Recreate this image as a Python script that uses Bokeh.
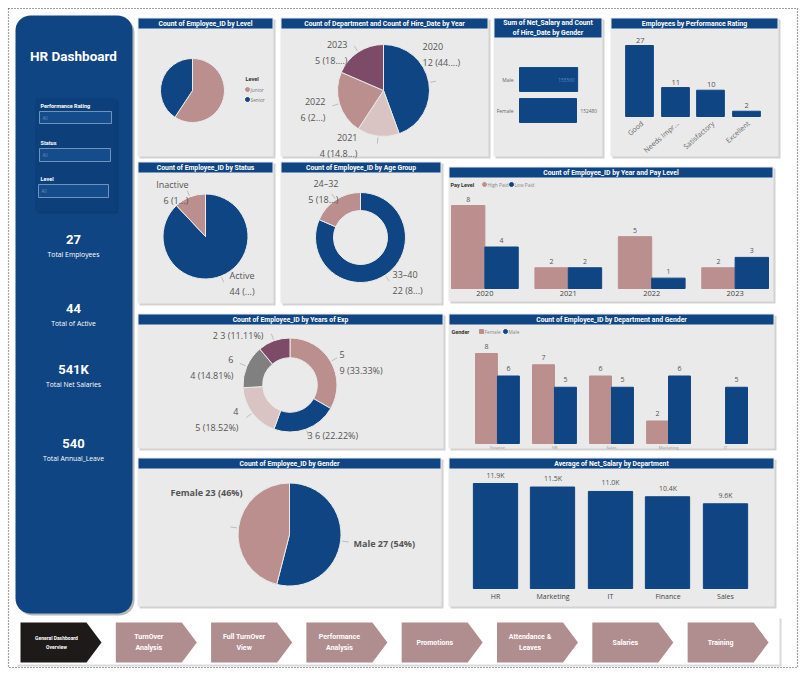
import numpy as np
from bokeh.plotting import figure
from bokeh.models import Range1d, ColumnDataSource
from bokeh.core.properties import value
from bokeh.embed import file_html
from bokeh.resources import INLINE

# ---------------- data ----------------
kpi_values = ["27", "44", "541K", "540"]
kpi_names = ["Total Employees", "Total of Active", "Total Net Salaries", "Total Annual_Leave"]
slicer_names = ["Performance Rating", "Status", "Level"]

level_names = ["Junior", "Senior"]
level_counts = [16, 11]

hire_years = ["2020", "2021", "2022", "2023"]
hire_counts = [12, 4, 6, 5]
hire_shown = ["12 (44....)", "4 (14.8...)", "6 (2...)", "5 (18....)"]

gender_sal_names = ["Male", "Female"]
gender_sal_values = [155560, 152480]

perf_names = ["Good", "Needs Impr...", "Satisfactory", "Excellent"]
perf_counts = [27, 11, 10, 2]

status_names = ["Active", "Inactive"]
status_counts = [44, 6]
status_shown = ["44 (...)", "6 (1...)"]

age_names = ["33–40", "24–32"]
age_counts = [22, 5]
age_shown = ["22 (8...)", "5 (18...)"]

pay_years = ["2020", "2021", "2022", "2023"]
pay_levels = ["High Paid", "Low Paid"]
high_paid = [8, 2, 5, 2]
low_paid = [4, 2, 1, 3]

exp_names = ["5", "3", "4", "6", "2"]
exp_counts = [9, 6, 5, 4, 3]

dept_names = ["Finance", "HR", "Sales", "Marketing", "IT"]
genders = ["Female", "Male"]
dept_female = [8, 7, 6, 2, 0]
dept_male = [6, 5, 5, 6, 5]

gender_names = ["Male", "Female"]
gender_counts = [27, 23]

sal_depts = ["HR", "Marketing", "IT", "Finance", "Sales"]
sal_avg = [11900, 11500, 11000, 10400, 9600]

nav_names = ["General Dashboard\nOverview", "TurnOver\nAnalysis", "Full TurnOver\nView",
             "Performance\nAnalysis", "Promotions", "Attendance &\nLeaves", "Salaries", "Training"]

# ---------------- style ----------------
W, H = 803, 678
BLUE = "#0F4583"
PINK = "#BC8F8F"
LPINK = "#D9C3C3"
MAUVE = "#7D4B67"
GREY = "#808080"
PANEL = "#EAEAEA"
TXT = "#555555"
SANS = "Open Sans"
BOLDF = "Roboto"

p = figure(width=W, height=H, x_range=Range1d(0, W), y_range=Range1d(H, 0),
           output_backend="svg", toolbar_location=None, min_border=0,
           x_axis_location=None, y_axis_location=None, outline_line_color=None,
           background_fill_color="white", border_fill_color="white")
p.grid.visible = False


def _l(v):
    return list(v) if isinstance(v, (list, np.ndarray)) else [v]


def T(g, x, y, s, size, color=TXT, bold=False, align="center", base="middle",
      font=SANS, angle=0.0, lh=1.25, xo=0, yo=0, alpha=1.0):
    xs, ys, ss = _l(x), _l(y), _l(s)
    n = max(len(xs), len(ys), len(ss))
    xs = xs * n if len(xs) == 1 else xs
    ys = ys * n if len(ys) == 1 else ys
    ss = ss * n if len(ss) == 1 else ss
    g.text(x=xs, y=ys, text=ss, text_font=value(font), text_font_size=f"{size}px",
           text_color=color, text_font_style="bold" if bold else "normal",
           text_align=align, text_baseline=base, angle=angle, text_line_height=lh,
           x_offset=xo, y_offset=yo, text_alpha=alpha)


def rounded(x0, y0, x1, y1, r, n=10):
    xs, ys = [], []
    for cx, cy, a0 in [(x0 + r, y0 + r, np.pi), (x1 - r, y0 + r, 1.5 * np.pi),
                       (x1 - r, y1 - r, 0.0), (x0 + r, y1 - r, 0.5 * np.pi)]:
        t = np.linspace(a0, a0 + 0.5 * np.pi, n)
        xs += list(cx + r * np.cos(t))
        ys += list(cy + r * np.sin(t))
    return xs, ys


def panel(x0, y0, x1, y1, title, th=10):
    p.quad(left=x0 + 2, right=x1 + 2, top=y0 + 2, bottom=y1 + 2, fill_color="#D2D2D2", line_color=None)
    p.quad(left=x0, right=x1, top=y0, bottom=y1, fill_color=PANEL, line_color=None)
    p.quad(left=x0 + 1, right=x1 - 1, top=y0 + 1, bottom=y0 + 1 + th, fill_color=BLUE, line_color=None)
    T(p, (x0 + x1) / 2, y0 + 1 + th / 2, title, 6.8, "white", bold=True, font=BOLDF, lh=1.2)


def pie(cx, cy, r, values, colors, inner=0.0, leaders=False):
    sub = p.subplot(x_source=Range1d(-1, 1), y_source=Range1d(-1, 1),
                    x_target=Range1d(cx - r, cx + r), y_target=Range1d(cy + r, cy - r))
    v = np.array(values, dtype=float)
    frac = v / v.sum()
    c1 = np.cumsum(frac)
    c0 = c1 - frac
    src = ColumnDataSource(dict(start=np.pi / 2 - 2 * np.pi * c1, end=np.pi / 2 - 2 * np.pi * c0,
                                color=colors))
    if leaders:
        mid = np.pi / 2 - 2 * np.pi * (c0 + c1) / 2
        sub.segment(x0=1.03 * np.cos(mid), y0=1.03 * np.sin(mid), x1=1.16 * np.cos(mid),
                    y1=1.16 * np.sin(mid), line_color="#BDBDBD", line_width=1)
    if inner > 0:
        sub.annular_wedge(x=0, y=0, inner_radius=inner, outer_radius=1, start_angle="start",
                          end_angle="end", fill_color="color", line_color=PANEL, line_width=1, source=src)
    else:
        sub.wedge(x=0, y=0, radius=1, start_angle="start", end_angle="end",
                  fill_color="color", line_color=PANEL, line_width=1, source=src)
    return sub


# ---------------- frame / sidebar ----------------
p.line(x=[8, 797, 797, 8, 8], y=[8, 8, 667, 667, 8], line_color="#444444", line_width=1.2, line_dash="1 2")

sx, sy = rounded(17, 17, 134, 615, 15)
p.patch(x=sx, y=sy, fill_color="#B8B8B8", line_color=None)
sx, sy = rounded(15, 15, 132, 613, 15)
p.patch(x=sx, y=sy, fill_color=BLUE, line_color=None)
T(p, 73, 55, "HR Dashboard", 13.5, "white", bold=True, font=BOLDF)

p.quad(left=37, right=118, top=100, bottom=213, fill_color="#062E5C", fill_alpha=0.35, line_color=None)
p.quad(left=35, right=116, top=98, bottom=211, fill_color="#0D3F7A", line_color=None)
slicer_label_y = [105, 142, 178]
slicer_box = [(39, 111, 111, 123), (39, 148, 110, 161), (38, 184, 108, 197)]
for name, ly, (bx0, by0, bx1, by1) in zip(slicer_names, slicer_label_y, slicer_box):
    T(p, 40, ly, name, 5.5, "white", bold=True, align="left", font=BOLDF)
    p.quad(left=bx0, right=bx1, top=by0, bottom=by1, fill_color="#144C8C", line_color="#8AA6CC", line_width=0.8)
    T(p, bx0 + 3, (by0 + by1) / 2, "All", 4.5, "#6F8FBC", align="left")

kpi_y = [239, 308, 369, 443]
for v, nm, ky in zip(kpi_values, kpi_names, kpi_y):
    T(p, 73, ky, v, 13, "white", bold=True, font=BOLDF)
    T(p, 73, ky + 15, nm, 6.8, "white", font=SANS)

# ---------------- panel 1: level pie ----------------
panel(137, 17, 273, 156, "Count of Employee_ID by Level")
pie(192, 90, 32, level_counts, [PINK, BLUE])
T(p, 245, 78, "Level", 5.5, "#333333", bold=True, align="left", font=BOLDF)
p.scatter(x=[247, 247], y=[89, 99], size=4, color=[PINK, BLUE])
T(p, 250, [89, 99], level_names, 4.8, "#777777", align="left")

# ---------------- panel 2: hire year pie ----------------
panel(280, 17, 488, 156, "Count of Department and Count of Hire_Date by Year")
pie(383, 90, 46, hire_counts, [BLUE, LPINK, PINK, MAUVE], leaders=True)
hire_lab_x = [422, 357, 325, 347]
hire_lab_y = [39, 130, 94, 37]
hire_lab_align = ["left", "right", "right", "right"]
for yr, sh, lx, ly, la in zip(hire_years, hire_shown, hire_lab_x, hire_lab_y, hire_lab_align):
    T(p, lx, ly, yr + "\n" + sh, 9, TXT, align=la, base="top", lh=1.3)

# ---------------- panel 3: net salary by gender ----------------
panel(493, 17, 602, 156, "Sum of Net_Salary and Count\nof Hire_Date by Gender", th=19)
gpos = np.arange(len(gender_sal_names))
gs = p.subplot(x_source=Range1d(0, gender_sal_values[1]), y_source=Range1d(-0.5, len(gpos) - 0.5),
               x_target=Range1d(519, 576), y_target=Range1d(63.5, 125.5))
gs.hbar(y=gpos, right=gender_sal_values, left=0, height=0.77, color=BLUE)
T(gs, 0, gpos, gender_sal_names, 5, "#666666", align="right", xo=-6)
T(gs, gender_sal_values[0], gpos[0], str(gender_sal_values[0]), 4.8, "#5F86BD", align="right", xo=-3)
T(gs, gender_sal_values[1], gpos[1], str(gender_sal_values[1]), 4.8, "#666666", align="left", xo=4)

# ---------------- panel 4: performance rating ----------------
panel(610, 17, 778, 156, "Employees by Performance Rating")
ppos = np.arange(len(perf_names))
pr = p.subplot(x_source=Range1d(-0.5, len(ppos) - 0.5), y_source=Range1d(0, max(perf_counts)),
               x_target=Range1d(622, 764), y_target=Range1d(116, 45))
pr.vbar(x=ppos, top=perf_counts, width=0.78, color=BLUE)
T(pr, ppos, perf_counts, [str(v) for v in perf_counts], 7.5, TXT, base="bottom", yo=-3)
T(pr, ppos, 0, perf_names, 7, "#666666", align="right", base="middle", angle=0.72, yo=6, xo=2)

# ---------------- panel 5: status pie ----------------
panel(137, 161, 273, 303, "Count of Employee_ID by Status")
pie(205, 236, 42.5, status_counts, [BLUE, PINK], leaders=True)
status_lab = [(229, 268, "left"), (188, 177, "right")]
for nm, sh, (lx, ly, la) in zip(status_names, status_shown, status_lab):
    T(p, lx, ly, nm + "\n" + sh, 9, TXT, align=la, base="top", lh=1.3)

# ---------------- panel 6: age donut ----------------
panel(280, 161, 441, 303, "Count of Employee_ID by Age Group")
pie(360, 237, 45, age_counts, [BLUE, PINK], inner=0.6, leaders=True)
age_lab = [(392, 267, "left"), (338, 176, "right")]
for nm, sh, (lx, ly, la) in zip(age_names, age_shown, age_lab):
    T(p, lx, ly, nm + "\n" + sh, 9, TXT, align=la, base="top", lh=1.3)


def grouped_positions(n_groups, n_sub, gap):
    g = np.repeat(np.arange(n_groups), n_sub)
    k = np.tile(np.arange(n_sub), n_groups)
    return g * (n_sub + gap) + k + 0.5, np.arange(n_groups) * (n_sub + gap) + n_sub / 2, \
        n_groups * n_sub + (n_groups - 1) * gap


# ---------------- panel 7: year & pay level ----------------
panel(448, 166, 773, 301, "Count of Employee_ID by Year and Pay Level")
T(p, 450, 184, "Pay Level", 5.5, "#333333", bold=True, align="left", font=BOLDF)
p.scatter(x=[484, 511], y=[184, 184], size=4, color=[PINK, BLUE])
T(p, [487, 514], 184, pay_levels, 4.8, "#888888", align="left")
pay_vals = [v for pair in zip(high_paid, low_paid) for v in pair]
pay_cols = [PINK, BLUE] * len(pay_years)
pay_x, pay_gx, pay_span = grouped_positions(len(pay_years), len(pay_levels), 0.5)
py = p.subplot(x_source=Range1d(0, pay_span), y_source=Range1d(0, max(pay_vals)),
               x_target=Range1d(451, 768), y_target=Range1d(288, 205))
py.vbar(x=pay_x, top=pay_vals, width=1.0, color=pay_cols)
T(py, pay_x, pay_vals, [str(v) for v in pay_vals], 7, TXT, base="bottom", yo=-4)
T(py, pay_gx, 0, pay_years, 7.5, "#444444", base="top", yo=2)

# ---------------- panel 8: years of exp donut ----------------
panel(137, 313, 443, 448, "Count of Employee_ID by Years of Exp")
pie(289.5, 384.5, 47, exp_counts, [PINK, BLUE, LPINK, GREY, MAUVE], inner=0.58, leaders=True)
tot_exp = sum(exp_counts)
exp_sep = ["\n", " ", "\n", "\n", " "]
exp_lab = [(339, 347, "left", "top"), (307, 435, "left", "middle"), (238, 404, "right", "top"),
           (233, 352, "right", "top"), (263, 335, "right", "middle")]
for nm, c, sep, (lx, ly, la, lb) in zip(exp_names, exp_counts, exp_sep, exp_lab):
    T(p, lx, ly, f"{nm}{sep}{c} ({c / tot_exp * 100:.2f}%)", 9, TXT, align=la, base=lb, lh=1.3)

# ---------------- panel 9: department & gender ----------------
panel(448, 313, 774, 448, "Count of Employee_ID by Department and Gender")
T(p, 451, 331, "Gender", 5.5, "#333333", bold=True, align="left", font=BOLDF)
p.scatter(x=[481], y=[331], size=4, marker="square", color=PINK)
p.scatter(x=[505], y=[331], size=4, color=BLUE)
T(p, [484, 508], 331, genders, 4.8, "#888888", align="left")
dg_vals = [v for pair in zip(dept_female, dept_male) for v in pair]
dg_cols = [PINK, BLUE] * len(dept_names)
dg_x, dg_gx, dg_span = grouped_positions(len(dept_names), len(genders), 0.6)
nz = [i for i, v in enumerate(dg_vals) if v > 0]
dg = p.subplot(x_source=Range1d(0, dg_span), y_source=Range1d(0, max(dg_vals)),
               x_target=Range1d(475, 747), y_target=Range1d(443, 353))
dg.vbar(x=[dg_x[i] for i in nz], top=[dg_vals[i] for i in nz], width=1.0, color=[dg_cols[i] for i in nz])
T(dg, [dg_x[i] for i in nz], [dg_vals[i] for i in nz], [str(dg_vals[i]) for i in nz],
  7, TXT, base="bottom", yo=-5)
T(dg, dg_gx, 0, dept_names, 4.2, "#999999", base="top", yo=1)

# ---------------- panel 10: gender pie ----------------
panel(137, 457, 441, 606, "Count of Employee_ID by Gender")
pie(289, 534, 51.5, gender_counts, [BLUE, PINK], leaders=True)
tot_g = sum(gender_counts)
gender_lab = [(353, 543, "left"), (242, 492, "right")]
for nm, c, (lx, ly, la) in zip(gender_names, gender_counts, gender_lab):
    T(p, lx, ly, f"{nm} {c} ({c / tot_g * 100:.0f}%)", 9, TXT, bold=True, align=la)

# ---------------- panel 11: avg net salary ----------------
panel(448, 457, 774, 606, "Average of Net_Salary by Department")
spos = np.arange(len(sal_depts))
sa = p.subplot(x_source=Range1d(-0.5, len(spos) - 0.5), y_source=Range1d(0, max(sal_avg)),
               x_target=Range1d(466.25, 753.75), y_target=Range1d(588, 483))
sa.vbar(x=spos, top=sal_avg, width=0.77, color=BLUE)
T(sa, spos, sal_avg, [f"{v / 1000:.1f}K" for v in sal_avg], 7, TXT, base="bottom", yo=-4)
T(sa, spos, 0, sal_depts, 7, "#444444", base="top", yo=3)

# ---------------- navigation ----------------
p.quad(left=17, right=781, top=618, bottom=666, fill_color="#DADADA", line_color=None)
p.quad(left=15, right=779, top=616, bottom=664, fill_color="white", line_color=None)
for i, nm in enumerate(nav_names):
    x0 = 20 + i * 95.3
    p.patch(x=[x0, x0 + 66, x0 + 81, x0 + 66, x0], y=[622, 622, 642, 662, 662],
            fill_color="#1E1A1A" if i == 0 else "#B08E8F", line_color=None)
    T(p, x0 + (36 if i == 0 else 33), 642, nm, 5 if i == 0 else 7, "white", bold=True,
      font=BOLDF, lh=1.35)

open("out.html", "w").write(file_html(p, INLINE))
